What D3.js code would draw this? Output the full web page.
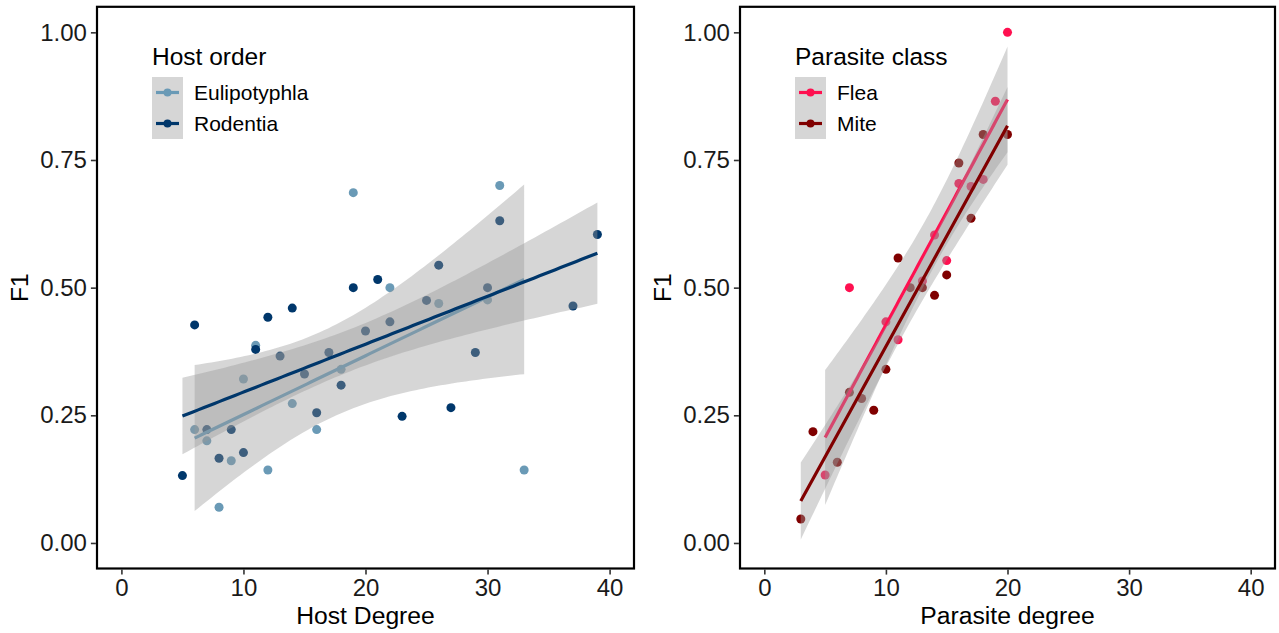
<!DOCTYPE html>
<html><head><meta charset="utf-8">
<script src="https://cdn.jsdelivr.net/npm/d3@7"></script>
<style>body{margin:0;background:#fff} text{font-family:"Liberation Sans",Arial,Helvetica,sans-serif}</style>
</head><body><svg id="c" width="1279" height="633"></svg>
<script>
// ---------- data ----------
const xTicks = [0, 10, 20, 30, 40];
const yTicks = [0, 0.25, 0.5, 0.75, 1];
const yTickLabels = ["0.00", "0.25", "0.50", "0.75", "1.00"];

const hostOrders = ["Eulipotyphla", "Rodentia"];
const hostColors = ["#6A9AB6", "#00376B"];
const eulDegree = [6, 7, 8, 9, 10, 11, 12, 14, 16, 18, 19, 22, 26, 30, 31, 33];
const eulF1     = [0.222, 0.2, 0.07, 0.161, 0.321, 0.387, 0.143, 0.273, 0.222, 0.34, 0.686, 0.5, 0.469, 0.476, 0.70, 0.143];
const rodDegree = [5, 6, 7, 8, 9, 10, 11, 12, 13, 14, 15, 16, 17, 18, 19, 20, 21, 22, 23, 25, 26, 27, 29, 30, 31, 37, 39];
const rodF1     = [0.132, 0.427, 0.222, 0.166, 0.222, 0.177, 0.379, 0.442, 0.366, 0.46, 0.331, 0.255, 0.373, 0.309, 0.5, 0.415, 0.516, 0.433, 0.248, 0.475, 0.544, 0.265, 0.373, 0.5, 0.631, 0.464, 0.604];

const parasiteClasses = ["Flea", "Mite"];
const parasiteColors = ["#FF1050", "#800000"];
const fleaDegree = [5, 7, 10, 11, 13, 14, 15, 16, 17, 18, 19, 20];
const fleaF1     = [0.133, 0.5, 0.433, 0.398, 0.513, 0.603, 0.553, 0.704, 0.698, 0.712, 0.865, 1.0];
const miteDegree = [3, 4, 6, 7, 8, 9, 10, 11, 12, 13, 14, 15, 16, 17, 18, 20];
const miteF1     = [0.047, 0.218, 0.158, 0.295, 0.283, 0.26, 0.34, 0.558, 0.5, 0.5, 0.485, 0.525, 0.744, 0.636, 0.8, 0.8];

// ---------- stats (lm smoother with 95% CI) ----------
function lgamma(x){const c=[76.18009172947146,-86.50532032941677,24.01409824083091,-1.231739572450155,0.1208650973866179e-2,-0.5395239384953e-5];let y=x,tmp=x+5.5;tmp-=(x+0.5)*Math.log(tmp);let ser=1.000000000190015;for(const ci of c)ser+=ci/++y;return -tmp+Math.log(2.5066282746310005*ser/x);}
function tInt(t,nu){const k=Math.exp(lgamma((nu+1)/2)-lgamma(nu/2))/Math.sqrt(nu*Math.PI);const N=400,h=t/N;let s=0;for(let i=0;i<=N;i++){const x=i*h;const f=k*Math.pow(1+x*x/nu,-(nu+1)/2);s+=f*(i===0||i===N?1:(i%2?4:2));}return s*h/3;}
function tq(p,nu){let lo=0,hi=30;for(let i=0;i<60;i++){const m=(lo+hi)/2;if(0.5+tInt(m,nu)<p)lo=m;else hi=m;}return (lo+hi)/2;}
function smooth(xs,ys){
  const n=xs.length,mx=d3.mean(xs),my=d3.mean(ys);
  let sxx=0,sxy=0;xs.forEach((x,i)=>{sxx+=(x-mx)**2;sxy+=(x-mx)*(ys[i]-my);});
  const b=sxy/sxx,a=my-b*mx;let sse=0;xs.forEach((x,i)=>{sse+=(ys[i]-a-b*x)**2;});
  const s=Math.sqrt(sse/(n-2)),t=tq(0.975,n-2);const [x0,x1]=d3.extent(xs);
  return d3.range(80).map(i=>{const x=x0+(x1-x0)*i/79;const se=s*Math.sqrt(1/n+(x-mx)**2/sxx);const y=a+b*x;return {x,y,lo:y-t*se,hi:y+t*se};});
}

// ---------- drawing ----------
const svg = d3.select("#c");
const FONT = '"Liberation Sans",Arial,sans-serif';

const panels = [
  {left:97, right:634, xTitle:"Host Degree", legendTitle:"Host order",
   groups:[{name:hostOrders[0],color:hostColors[0],xs:eulDegree,ys:eulF1},{name:hostOrders[1],color:hostColors[1],xs:rodDegree,ys:rodF1}]},
  {left:740, right:1275, xTitle:"Parasite degree", legendTitle:"Parasite class",
   groups:[{name:parasiteClasses[0],color:parasiteColors[0],xs:fleaDegree,ys:fleaF1},{name:parasiteClasses[1],color:parasiteColors[1],xs:miteDegree,ys:miteF1}]}
];
const pTop = 6.8, pBottom = 568.5;

panels.forEach((p,pi)=>{
  const x = d3.scaleLinear().domain([-2,42]).range([p.left,p.right]);
  const y = d3.scaleLinear().domain([-0.05,1.05]).range([pBottom,pTop]);
  const g = svg.append("g");
  const clipId = "clip"+pi;
  svg.append("clipPath").attr("id",clipId).append("rect").attr("x",p.left).attr("y",pTop).attr("width",p.right-p.left).attr("height",pBottom-pTop);
  const plot = g.append("g").attr("clip-path",`url(#${clipId})`);

  // points
  p.groups.forEach(gr=>{
    plot.append("g").selectAll("circle").data(gr.xs.map((d,i)=>[d,gr.ys[i]])).join("circle")
      .attr("cx",d=>x(d[0])).attr("cy",d=>y(d[1])).attr("r",4.5).attr("fill",gr.color);
  });
  // smooths: ribbon then line per group
  p.groups.forEach(gr=>{
    const sm = smooth(gr.xs,gr.ys);
    plot.append("path").datum(sm).attr("fill","#999999").attr("fill-opacity",0.4)
      .attr("d",d3.area().x(d=>x(d.x)).y0(d=>y(d.lo)).y1(d=>y(d.hi)));
    plot.append("path").datum(sm).attr("fill","none").attr("stroke",gr.color).attr("stroke-width",3.2)
      .attr("d",d3.line().x(d=>x(d.x)).y(d=>y(d.y)));
  });

  // border
  g.append("rect").attr("x",p.left).attr("y",pTop).attr("width",p.right-p.left).attr("height",pBottom-pTop)
    .attr("fill","none").attr("stroke","#000").attr("stroke-width",2.2);

  // axes
  const xa = g.append("g").attr("transform",`translate(0,${pBottom+1.1})`)
    .call(d3.axisBottom(x).tickValues(xTicks).tickSize(5).tickPadding(3).tickFormat(d3.format("d")));
  const ya = g.append("g").attr("transform",`translate(${p.left-1.1},0)`)
    .call(d3.axisLeft(y).tickValues(yTicks).tickSize(5).tickPadding(4).tickFormat((d,i)=>yTickLabels[i]));
  [xa,ya].forEach(a=>{a.select(".domain").remove();a.selectAll("line").attr("stroke","#333").attr("stroke-width",1.6);
    a.selectAll("text").attr("fill","#1a1a1a").style("font-size","24px").style("font-family",FONT);});
  xa.selectAll("text").attr("dy","0.75em");

  // axis titles
  g.append("text").attr("x",(p.left+p.right)/2).attr("y",624).attr("text-anchor","middle")
    .style("font-size","24.7px").text(p.xTitle);
  g.append("text").attr("transform",`translate(${p.left-69},${(pTop+pBottom)/2}) rotate(-90)`).attr("text-anchor","middle")
    .style("font-size","24.7px").text("F1");

  // legend
  const lx = p.left+55, ly = 77;
  g.append("text").attr("x",lx).attr("y",65).style("font-size","24.5px").text(p.legendTitle);
  p.groups.forEach((gr,i)=>{
    const ky = ly + i*31;
    g.append("rect").attr("x",lx).attr("y",ky).attr("width",31).attr("height",31).attr("fill","#D6D6D6");
    g.append("line").attr("x1",lx+4).attr("x2",lx+27).attr("y1",ky+15.5).attr("y2",ky+15.5).attr("stroke",gr.color).attr("stroke-width",3.2);
    g.append("circle").attr("cx",lx+15.5).attr("cy",ky+15.5).attr("r",4).attr("fill",gr.color);
    g.append("text").attr("x",lx+42).attr("y",ky+15.5).attr("dy","0.35em").style("font-size","21px").text(gr.name);
  });
});
</script></body></html>
